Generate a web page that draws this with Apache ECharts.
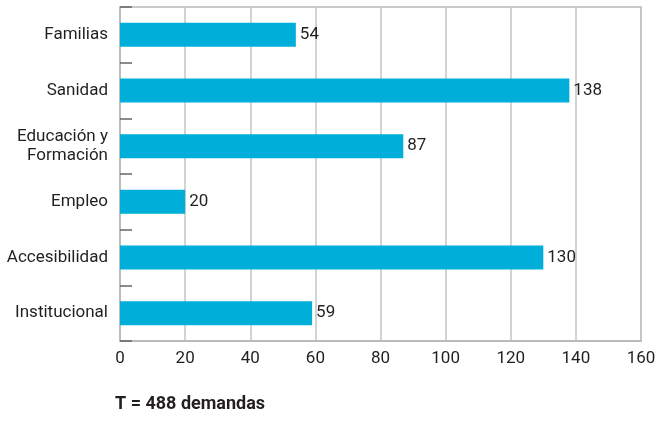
<!DOCTYPE html>
<html>
<head>
<meta charset="utf-8">
<script src="https://cdn.jsdelivr.net/npm/echarts@6/dist/echarts.min.js"></script>
<style>
html, body { margin: 0; padding: 0; background: #fff; }
#chart { width: 668px; height: 422px; }
</style>
</head>
<body>
<div id="chart"></div>
<script>
var categories = ['Familias', 'Sanidad', 'Educación y\nFormación', 'Empleo', 'Accesibilidad', 'Institucional'];
var demandas = [54, 138, 87, 20, 130, 59];
var xTicks = [0, 20, 40, 60, 80, 100, 120, 140, 160];
var totalText = 'T = 488 demandas';

var font = 'Roboto';

var chart = echarts.init(document.getElementById('chart'));
var option = {
	animation : false,
	textStyle : { fontFamily : font },
	title : {
		text : totalText,
		left : 115,
		top : 395,
		padding : 0,
		textStyle : { fontFamily : font, fontSize : 18, fontWeight : 'bold', color : '#231f20' }
	},
	grid : {
		left : 120,
		right : 27,
		top : 7,
		bottom : 81,
		outerBoundsMode : 'none',
		containLabel : false,
		show : true,
		borderColor : '#b8b8b8',
		borderWidth : 1.5
	},
	xAxis : {
		type : 'value',
		min : xTicks[0],
		max : xTicks[xTicks.length - 1],
		interval : 20,
		axisLine : { show : true, lineStyle : { color : '#b8b8b8', width : 1.5 } },
		axisTick : { show : false },
		splitLine : { show : true, lineStyle : { color : '#c4c4c4', width : 1.5 } },
		axisLabel : { color : '#231f20', fontSize : 17, fontFamily : font, margin : 9 }
	},
	yAxis : {
		type : 'category',
		inverse : true,
		data : categories,
		axisLine : { show : true, lineStyle : { color : '#b8b8b8', width : 1.5 } },
		axisTick : { show : true, inside : true, length : 12, lineStyle : { color : '#666', width : 1.5 } },
		axisLabel : { color : '#231f20', fontSize : 17, fontFamily : font, margin : 12, lineHeight : 19 }
	},
	series : [ {
		name : 'Demandas',
		type : 'bar',
		data : demandas,
		barWidth : 24,
		itemStyle : { color : '#00afd9' },
		label : {
			show : true,
			position : 'right',
			distance : 4,
			color : '#231f20',
			fontSize : 17,
			fontFamily : font
		}
	} ]
};
chart.setOption(option);
</script>
</body>
</html>
